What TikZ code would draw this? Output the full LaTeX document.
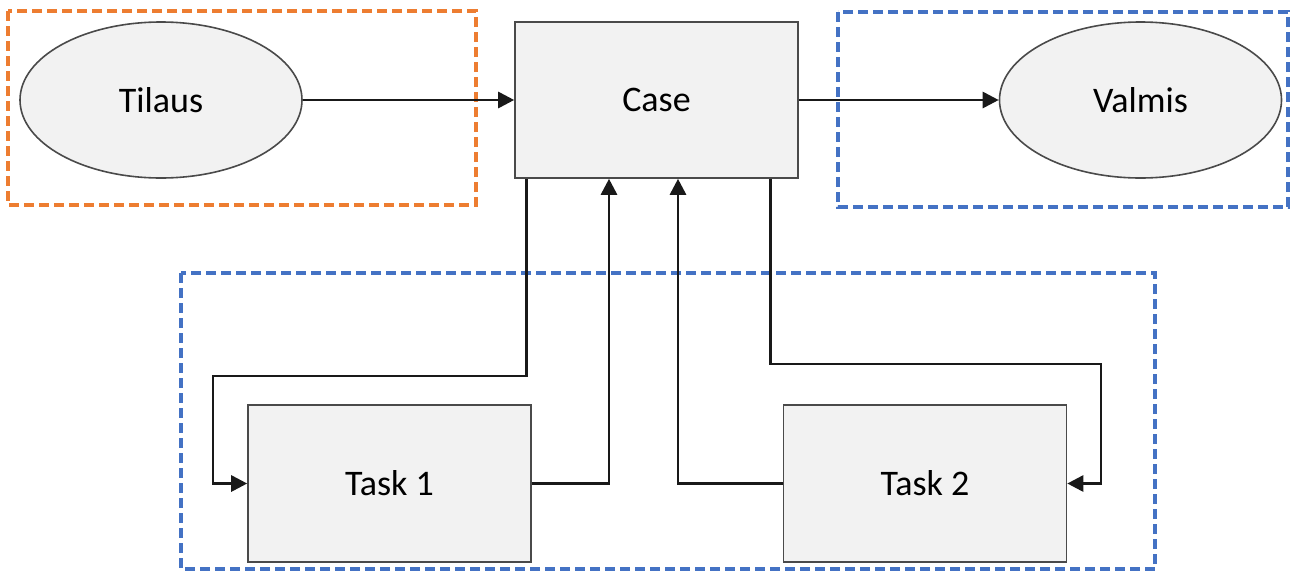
\documentclass[tikz,border=0pt]{standalone}
\usepackage{fontspec}
\setmainfont{Carlito}
\usetikzlibrary{arrows.meta,shapes.geometric}
\definecolor{boxfill}{HTML}{F2F2F2}
\definecolor{boxline}{HTML}{4A4A4A}
\definecolor{grporange}{HTML}{ED7D31}
\definecolor{grpblue}{HTML}{4472C4}
\tikzset{
  shapebase/.style={draw=boxline, fill=boxfill, line width=1.6pt, inner sep=0pt,
                    font=\fontsize{36}{43}\selectfont},
  entity/.style={shapebase, ellipse, minimum width=282pt, minimum height=156pt},
  stepbox/.style={shapebase, rectangle, minimum width=283pt, minimum height=157pt},
  group/.style={line width=3.4pt, dash pattern=on 10pt off 5pt},
  arr/.style={line width=2.8pt, draw=black!90,
              -{Triangle[length=16pt,width=16pt]}},
}
\begin{document}
\begin{tikzpicture}[x=1pt,y=-1pt]
  \useasboundingbox (0,0) rectangle (1292,571);

  % dashed groupings
  \draw[group, grporange] (8,11) rectangle (476,205);
  \draw[group, grpblue] (838,12) rectangle (1288,207);
  \draw[group, grpblue] (181,273) rectangle (1155,569);

  % nodes
  \node[entity]  (tilaus) at (161,100)   {Tilaus};
  \node[stepbox, minimum height=156pt] (case) at (656.5,100) {Case};
  \node[entity]  (valmis) at (1140.5,100) {Valmis};
  \node[stepbox] (task1) at (389.5,483.5) {Task 1};
  \node[stepbox] (task2) at (925,483.5)   {Task 2};

  % routing corners
  \coordinate (lbend) at (213,376);
  \coordinate (rbend) at (1101,364);

  % connectors
  \draw[arr] (tilaus.east) -- (case.west);
  \draw[arr] (case.east) -- (valmis.west);
  \draw[arr] ([xshift=12pt]case.south west) |- (lbend) |- (task1.west);
  \draw[arr] (task1.east) -| ([xshift=-47.5pt]case.south);
  \draw[arr] (task2.west) -| ([xshift=21.5pt]case.south);
  \draw[arr] ([xshift=-28.5pt]case.south east) |- (rbend) |- (task2.east);
\end{tikzpicture}
\end{document}
